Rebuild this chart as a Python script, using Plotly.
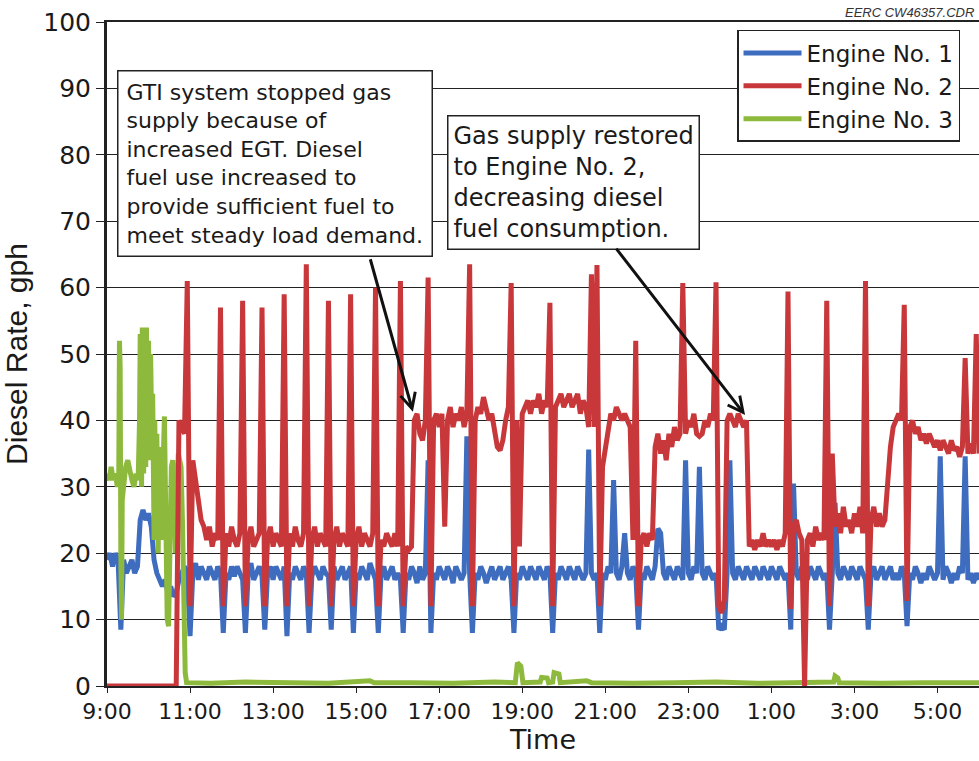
import plotly.graph_objects as go

# ---------------- DATA ----------------
# time axis in minutes after 9:00 (4-minute samples for engines 1 and 2)
sample_minutes = list(range(0, 1261, 4))

engine1 = [
    19, 20, 18, 20, 19, 8.5, 19, 17, 18, 19, 17, 18, 25, 26.5, 25,
    26, 24, 19, 17, 16, 15, 16, 14, 15, 13.5, 14, 16, 17, 18, 17,
    7.5, 17, 18.5, 16, 18, 17, 16, 18, 17, 16, 18, 17, 8, 17, 16,
    18, 16.5, 18, 17, 16, 8, 17, 18.5, 16, 17, 18, 16.5, 8.5, 17, 18,
    16, 18, 17, 16, 18, 7.5, 17, 16, 18, 17, 16, 18, 17, 8, 16.5,
    18, 17, 16, 18, 17, 16.5, 8.5, 18, 16, 17, 18, 16, 17, 18, 8,
    17, 16, 18, 17, 16, 18.5, 17, 16, 8, 17, 18, 16, 17, 18, 16,
    17, 16, 8, 17, 16, 18, 17, 15.5, 18, 16, 17, 34, 8, 17, 16,
    18, 17, 16, 18, 17, 15.5, 18, 17, 16, 17, 37.6, 17, 8, 17, 16,
    18, 17, 15.5, 17, 18, 16, 17, 18, 16, 17, 18, 16, 8, 17, 16,
    18, 17, 16, 18, 17, 16, 18, 17, 16, 18, 17, 8, 17, 16, 18,
    17, 16, 18, 17, 16, 18, 17, 16, 17, 35.6, 17, 16, 17, 8, 17,
    16, 18, 17, 31, 17, 16, 18, 23, 17, 16, 18, 17, 8.5, 17, 16,
    18, 17, 16, 18, 23.7, 23, 17, 16, 18, 17, 16, 18, 17, 16, 34,
    17, 16, 18, 17, 33, 17, 16, 18, 17, 16, 17, 8.5, 9, 8.5, 17,
    34, 17, 16, 18, 17, 16, 18, 17, 16, 18, 17, 16, 18, 17, 16,
    18, 17, 16, 18, 17, 16, 17, 8.5, 30.5, 17, 16, 18, 17, 16, 18,
    17, 16, 18, 17, 16, 17, 8.5, 17, 27.6, 17, 16, 18, 17, 16, 18,
    17, 16, 18, 17, 16, 8.5, 17, 18, 16, 17, 18, 16, 17, 18, 16,
    17, 16, 18, 17, 9, 17, 16, 18, 17, 15.5, 17, 16, 18, 17, 16,
    17, 34.6, 16, 18, 17, 15.5, 17, 16, 18, 17, 34.6, 16, 17, 15.5, 17,
    16,
]

engine2 = [
    0, 0, 0, 0, 0, 0, 0, 0, 0, 0, 0, 0, 0, 0, 0,
    0, 0, 0, 0, 0, 0, 0, 0, 0, 0, 0, 40, 39, 38, 61,
    12, 34, 31, 27, 25, 24, 22, 24, 21, 23, 22, 57, 12, 23, 21,
    24, 22, 21, 23, 58, 12, 22, 24, 21, 22, 23, 57, 12, 22, 24,
    21, 23, 22, 21, 59, 12, 23, 21, 24, 22, 21, 23, 63.5, 12, 22,
    24, 21, 23, 22, 21, 58, 12, 22, 24, 21, 23, 22, 21, 59, 12,
    22, 24, 21, 23, 22, 21, 23, 60, 12, 22, 21, 23, 22, 21, 23,
    21, 61, 12, 21, 20.5, 21, 40, 41, 38, 37, 40, 61.5, 12, 40, 41,
    39, 41, 24, 40, 42, 39, 41, 40, 42, 39, 41, 63.5, 12, 40, 42,
    41, 43.5, 42, 40, 41, 38, 36, 35.5, 37, 40, 42, 60.7, 12, 40, 21,
    41, 42, 43, 41, 43, 42, 44, 41, 43, 42, 57.7, 12, 42, 43, 44,
    42, 43, 44, 42, 43, 44, 41, 43, 42, 39, 62, 39, 63.4, 12, 33,
    36, 39, 41, 40, 42, 41, 40, 41, 40, 39, 22, 52, 12, 22, 23,
    21, 23, 22, 36, 38, 35, 37, 34, 38, 36, 39, 37, 38, 60.7, 38,
    40, 39, 41, 38, 37.6, 38, 40, 39, 41, 40, 60.8, 12, 11, 13, 40,
    41, 40, 39, 41, 40, 39, 40, 21, 22, 20.5, 22, 21, 23, 21, 22,
    21, 22, 20.5, 22, 21, 23, 59.4, 11.6, 24, 25, 23, 22, 0, 22, 23,
    21, 24, 22, 23, 22, 58, 12, 35, 24, 26, 23, 27, 24, 25, 23,
    26, 24, 27, 23, 61, 12, 25, 27, 24, 26, 24, 25, 32, 36, 39,
    40, 41, 40, 57.4, 12.8, 39, 40, 38, 39, 37, 38, 36.5, 38, 37, 36,
    37, 35.5, 37, 36, 35, 37, 35.5, 36, 34.5, 36, 49.4, 35, 36.5, 35, 53,
    35,
]

engine3_minutes = [
    0, 3, 6, 9, 12, 15, 17, 18, 19, 20, 21, 22, 24, 27, 30, 33, 36, 39, 42, 45,
    47, 48, 50, 51, 53, 54, 56, 57, 59, 60, 62, 63, 65, 66, 68, 69, 71, 72, 74, 75,
    77, 78, 80, 81, 83, 85, 87, 89, 91, 93, 95, 97, 99, 101, 103, 105, 107, 109, 111, 113,
    115, 150, 200, 260, 320, 380, 386, 440, 500, 560, 590, 593, 598, 601, 626, 628, 636, 638,
    644, 646, 653, 655, 693, 700, 760, 820, 880, 940, 1000, 1050, 1052, 1056, 1058, 1120,
    1180, 1260,
]
engine3 = [
    32, 31, 33, 31, 32, 30, 32, 52, 48, 20, 10, 28, 31, 33, 34, 32, 31, 30, 32, 31,
    40, 53, 30, 54, 32, 53, 33, 54, 35, 52, 34, 50, 36, 44, 22, 40, 24, 38, 20, 36,
    24, 35, 22, 33, 40.6, 25, 10, 9, 20, 33, 34, 30, 20, 33, 35, 34, 33, 25, 5, 2,
    0.5, 0.4, 0.6, 0.5, 0.4, 0.8, 0.5, 0.5, 0.4, 0.6, 0.5, 3.5, 3.0, 0.5, 0.6, 1.3, 1.2, 0.5,
    0.6, 2.0, 1.8, 0.5, 0.8, 0.5, 0.4, 0.5, 0.6, 0.4, 0.5, 0.6, 1.5, 1.2, 0.5, 0.4,
    0.5, 0.5,
]

series_names = ["Engine No. 1", "Engine No. 2", "Engine No. 3"]
series_colors = ["#3e6cbf", "#c8373a", "#8dba3c"]

tick_minutes = [0, 120, 240, 360, 480, 600, 720, 840, 960, 1080, 1200]
tick_labels = ["9:00", "11:00", "13:00", "15:00", "17:00", "19:00",
               "21:00", "23:00", "1:00", "3:00", "5:00"]

note1 = ("GTI system stopped gas<br>supply because of<br>increased EGT. Diesel<br>"
         "fuel use increased to<br>provide sufficient fuel to<br>meet steady load demand.")
note2 = "Gas supply restored<br>to Engine No. 2,<br>decreasing diesel<br>fuel consumption."

# ---------------- FIGURE ----------------
FONT = "DejaVu Sans"
LW = 5
fig = go.Figure()
fig.add_trace(go.Scatter(x=sample_minutes, y=engine1, mode="lines", name=series_names[0],
                         line=dict(color=series_colors[0], width=LW), legendrank=1))
fig.add_trace(go.Scatter(x=engine3_minutes, y=engine3, mode="lines", name=series_names[2],
                         line=dict(color=series_colors[2], width=LW), legendrank=3))
fig.add_trace(go.Scatter(x=sample_minutes, y=engine2, mode="lines", name=series_names[1],
                         line=dict(color=series_colors[1], width=LW), legendrank=2))

fig.update_layout(
    width=979, height=761,
    margin=dict(l=107, r=0, t=22, b=75),
    paper_bgcolor="white", plot_bgcolor="white",
    font=dict(family=FONT, color="#1a1a1a"),
    showlegend=True,
    legend=dict(x=0.7225, y=0.988, xanchor="left", yanchor="top",
                bgcolor="white", bordercolor="#222", borderwidth=1.5,
                font=dict(family=FONT, size=23, color="#1a1a1a"),
                itemwidth=58, tracegroupgap=0),
    xaxis=dict(range=[0, 1260], tickmode="array", tickvals=tick_minutes, ticktext=tick_labels,
               showgrid=False, zeroline=False, showline=True, linecolor="#222", linewidth=1.5,
               mirror=True, ticks="outside", ticklen=5, tickcolor="#222",
               tickfont=dict(family=FONT, size=22),
               title=dict(text="Time", font=dict(family=FONT, size=27), standoff=6)),
    yaxis=dict(range=[0, 100], tickmode="array", tickvals=list(range(0, 101, 10)),
               showgrid=True, gridcolor="#222", gridwidth=1.2, zeroline=False,
               showline=True, linecolor="#222", linewidth=3,
               ticks="outside", ticklen=8, tickcolor="#222",
               tickfont=dict(family=FONT, size=25),
               title=dict(text="Diesel Rate, gph", font=dict(family="Liberation Sans", size=30),
                          standoff=8)),
)

fig.add_annotation(xref="paper", yref="paper", x=0.0115, y=0.9277, xanchor="left", yanchor="top",
                   text=note1, showarrow=False, align="left", bgcolor="white",
                   bordercolor="#222", borderwidth=1.5, borderpad=8,
                   font=dict(family=FONT, size=22, color="#1a1a1a"))
fig.add_annotation(xref="paper", yref="paper", x=0.39, y=0.86, xanchor="left", yanchor="top",
                   text=note2, showarrow=False, align="left", bgcolor="white",
                   bordercolor="#222", borderwidth=1.5, borderpad=5,
                   font=dict(family=FONT, size=24, color="#1a1a1a"))
# arrows
fig.add_annotation(x=442, y=41.3, xref="x", yref="y", text="", showarrow=True,
                   ax=-43, ay=-154, arrowhead=5, arrowsize=1, arrowwidth=3, arrowcolor="#111",
                   standoff=0)
fig.add_annotation(x=922, y=40.8, xref="x", yref="y", text="", showarrow=True,
                   ax=-130, ay=-168, arrowhead=5, arrowsize=1, arrowwidth=3, arrowcolor="#111",
                   standoff=0)
fig.add_annotation(xref="paper", yref="paper", x=0.997, y=1.0, xanchor="right", yanchor="bottom",
                   text="<i>EERC CW46357.CDR</i>", showarrow=False,
                   font=dict(family="Liberation Sans", size=13, color="#333"))

fig.write_html("out.html")
